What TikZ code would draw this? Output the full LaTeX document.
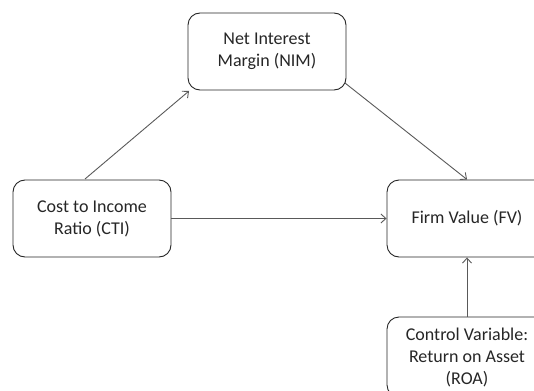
\documentclass[tikz,border=0pt]{standalone}
\usepackage{fontspec}
\setmainfont{Carlito}
\usetikzlibrary{arrows.meta}
\begin{document}
\begin{tikzpicture}[x=1pt,y=-1pt,
  vbox/.style={draw=black!85, line width=0.9pt, rounded corners=12pt, fill=white,
    minimum width=158pt, minimum height=77pt, align=center, inner sep=0pt,
    font=\fontsize{18}{22}\selectfont, text=black!85},
  conn/.style={draw=black!65, line width=0.9pt, -{Straight Barb[length=5pt,width=9pt]}}]
\useasboundingbox (0,0) rectangle (534,390);
\node[vbox] (nim) at (267,51.5) {Net Interest\\Margin (NIM)};
\node[vbox] (cti) at (92,218.5) {Cost to Income\\Ratio (CTI)};
\node[vbox, minimum width=160pt] (fv) at (467,218.5) {Firm Value (FV)};
\node[vbox, minimum width=160pt, minimum height=80pt] (roa) at (467,357) {Control Variable:\\Return on Asset\\(ROA)};
\coordinate (a1) at (85,179);
\coordinate (a2) at (189,91);
\coordinate (b1) at (345,83);
\coordinate (b2) at (467,179.5);
\draw[conn] (a1) -- (a2);
\draw[conn] (b1) -- (b2);
\draw[conn] (cti.east) -- (fv.west);
\draw[conn] (roa.north) -- (fv.south);
\end{tikzpicture}
\end{document}
